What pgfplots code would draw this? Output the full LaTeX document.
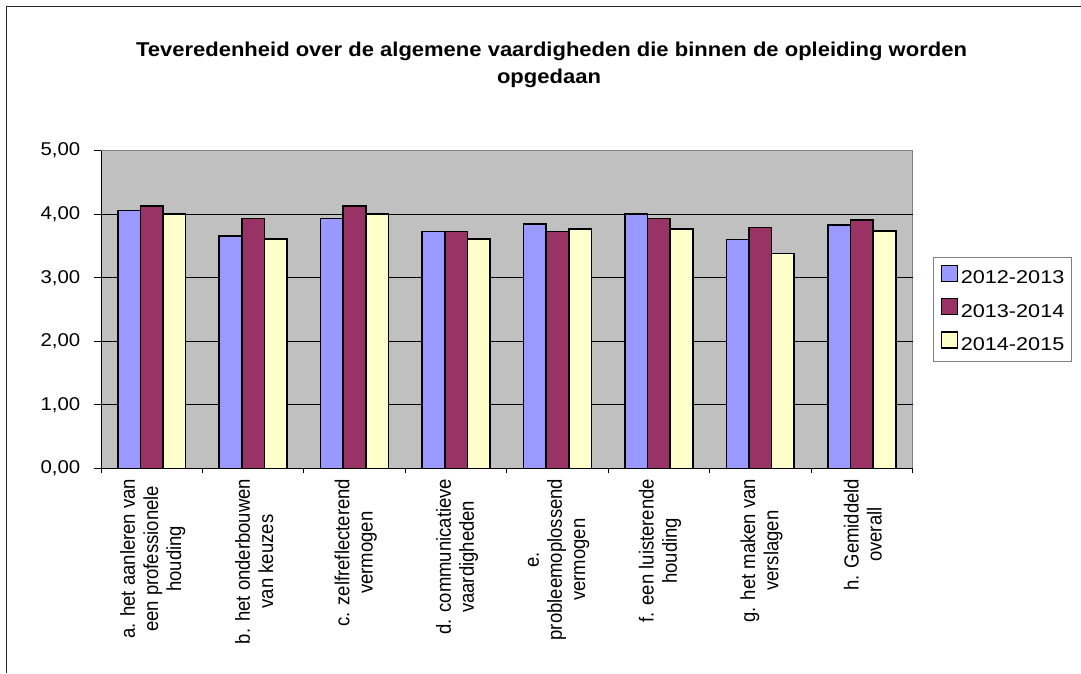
\documentclass[border=0pt]{standalone}
\usepackage{fontspec}
\usepackage{pgfplots}
\usepackage{pgfplotstable}
\pgfplotsset{compat=1.18}
\setmainfont{Liberation Sans}

\definecolor{serA}{HTML}{9999FF}
\definecolor{serB}{HTML}{993366}
\definecolor{serC}{HTML}{FFFFCC}
\definecolor{plotbg}{HTML}{C0C0C0}
\definecolor{framegray}{HTML}{808080}

\newcommand\tfont{\fontsize{18.5}{21}\selectfont}
\newcommand\titlefont{\fontsize{20}{26}\selectfont\bfseries}
\newcommand\lx[1]{\scalebox{1.17}[1]{#1}}

% tevredenheid per schooljaar
\pgfplotstableread{
x  y1213 y1314 y1415
1  4.06  4.13  4.00
2  3.66  3.93  3.61
3  3.93  4.13  4.00
4  3.73  3.73  3.61
5  3.85  3.73  3.77
6  4.00  3.93  3.77
7  3.60  3.79  3.38
8  3.83  3.91  3.74
}\datatable

\begin{document}
\begin{tikzpicture}
\useasboundingbox (0pt,0pt) rectangle (1081pt,-673pt);
\draw[line width=1pt, black!85] (6pt,-673pt) -- (6pt,-6.5pt) -- (1081pt,-6.5pt);

\node[font=\titlefont, xscale=1.1, anchor=base] at (551.5pt,-56.7pt) {Teveredenheid over de algemene vaardigheden die binnen de opleiding worden};
\node[font=\titlefont, xscale=1.1, anchor=base] at (549pt,-83pt) {opgedaan};

\begin{axis}[
  at={(101pt,-468.3pt)}, anchor=south west,
  scale only axis,
  width=811.5pt, height=317.6pt,
  ybar, bar width=0.223,
  xmin=0.5, xmax=8.5, ymin=0, ymax=5,
  ytick={0,1,2,3,4}, extra y ticks={5},
  extra y tick style={ymajorgrids=false},
  /pgf/number format/fixed,
  /pgf/number format/fixed zerofill,
  /pgf/number format/precision=2,
  /pgf/number format/use comma,
  /pgf/number format/assume math mode=true,
  xtick={1,...,8},
  xticklabels={
    {a. het aanleren van\\een professionele\\houding},
    {b. het onderbouwen\\van keuzes},
    {c. zelfreflecterend\\vermogen},
    {d. communicatieve\\vaardigheden},
    {e.\\probleemoplossend\\vermogen},
    {f. een luisterende\\houding},
    {g. het maken van\\verslagen},
    {h. Gemiddeld\\overall}},
  minor xtick={0.5,1.5,...,8.5},
  every major x tick/.append style={draw=none},
  every minor x tick/.append style={black, line width=0.8pt},
  every major y tick/.append style={black, line width=0.8pt},
  tick align=outside,
  major tick length=7pt, minor tick length=5pt,
  axis x line*=bottom, axis y line*=left,
  axis line style={black, line width=1pt, -},
  axis background/.style={fill=plotbg, draw=framegray, line width=1pt},
  ymajorgrids,
  major grid style={black, line width=0.8pt},
  ticklabel style={font=\tfont},
  yticklabel style={xscale=1.1, anchor=east, xshift=-9pt},
  xticklabel style={rotate=90, yscale=1.1, anchor=east, align=center, yshift=-1pt},
  legend style={at={(axis description cs:1.0253,0.6653)}, anchor=north west,
    draw=framegray, line width=1pt, font=\tfont, row sep=10pt, column sep=3pt,
    inner xsep=7pt, inner ysep=7pt,
    nodes={inner sep=0pt, text height=13.5pt, text depth=4pt},
    legend cell align=left},
  legend image code/.code={\draw[#1, draw=black, line width=1.3pt] (0pt,-2pt) rectangle (16pt,14pt);},
]
\addplot[draw=black, line width=1.6pt, fill=serA, bar shift=-0.223] table[x=x, y=y1213] {\datatable};
\addplot[draw=black, line width=1.6pt, fill=serB, bar shift=0] table[x=x, y=y1314] {\datatable};
\addplot[draw=black, line width=1.6pt, fill=serC, bar shift=0.223] table[x=x, y=y1415] {\datatable};
\legend{\lx{2012-2013},\lx{2013-2014},\lx{2014-2015}}
\end{axis}
\end{tikzpicture}
\end{document}
